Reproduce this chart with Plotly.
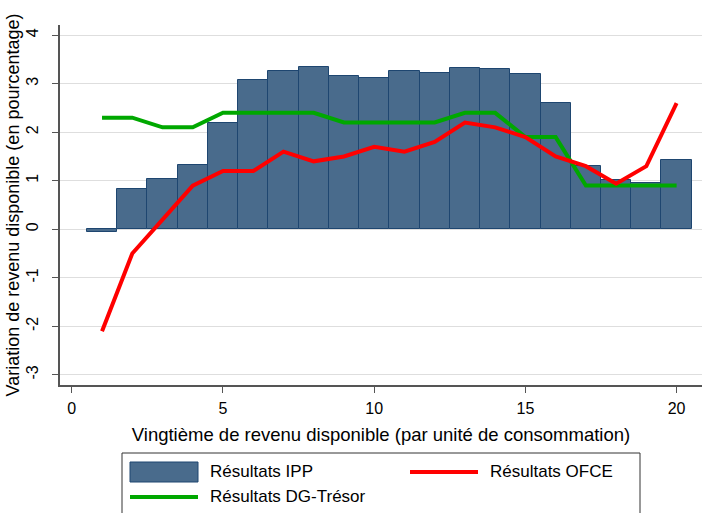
import plotly.graph_objects as go

vingtiles = list(range(1, 21))
ipp = [-0.05, 0.82, 1.04, 1.33, 2.19, 3.07, 3.27, 3.35, 3.15, 3.12,
       3.26, 3.22, 3.33, 3.31, 3.20, 2.60, 1.30, 1.02, 0.96, 1.42]
ofce = [-2.1, -0.5, 0.2, 0.9, 1.2, 1.2, 1.6, 1.4, 1.5, 1.7,
        1.6, 1.8, 2.2, 2.1, 1.9, 1.5, 1.3, 0.94, 1.3, 2.6]
tresor = [2.3, 2.3, 2.1, 2.1, 2.4, 2.4, 2.4, 2.4, 2.2, 2.2,
          2.2, 2.2, 2.4, 2.4, 1.9, 1.9, 0.9, 0.9, 0.9, 0.9]
x_ticks = [0, 5, 10, 15, 20]
y_ticks = [-3, -2, -1, 0, 1, 2, 3, 4]
y_tick_labels = ["-3", "-2", "-1", "0", "1", "2", "3", "4"]

FONT = "Liberation Sans, Arial, sans-serif"
BAR_FILL = "#496b8c"
BAR_LINE = "#1e4670"
RED = "#ff0000"
GREEN = "#00a800"

W, H = 702, 513
ML, MR, MT, MB = 60, 0, 25, 128
PW, PH = W - ML - MR, H - MT - MB


def px(x):
    return (x - ML) / PW


def py(y):
    return (H - MB - y) / PH


fig = go.Figure()
fig.add_trace(go.Bar(
    x=vingtiles, y=ipp, width=1, name="Résultats IPP",
    marker=dict(color=BAR_FILL, line=dict(color=BAR_LINE, width=1)),
))
fig.add_trace(go.Scatter(
    x=vingtiles, y=tresor, mode="lines", name="Résultats DG-Trésor",
    line=dict(color=GREEN, width=4),
))
fig.add_trace(go.Scatter(
    x=vingtiles, y=ofce, mode="lines", name="Résultats OFCE",
    line=dict(color=RED, width=4),
))

# manual legend (Stata-style, two columns)
shapes = [
    dict(type="rect", xref="paper", yref="paper", x0=px(122), x1=px(640),
         y0=py(453), y1=py(520), line=dict(color="#333", width=1),
         fillcolor="white", layer="above"),
    dict(type="rect", xref="paper", yref="paper", x0=px(130), x1=px(198),
         y0=py(462), y1=py(482), line=dict(color=BAR_LINE, width=1),
         fillcolor=BAR_FILL, layer="above"),
    dict(type="line", xref="paper", yref="paper", x0=px(410), x1=px(478),
         y0=py(472), y1=py(472), line=dict(color=RED, width=4), layer="above"),
    dict(type="line", xref="paper", yref="paper", x0=px(130), x1=px(198),
         y0=py(497), y1=py(497), line=dict(color=GREEN, width=4), layer="above"),
]
legend_texts = [("Résultats IPP", 208, 471), ("Résultats OFCE", 488, 471),
                ("Résultats DG-Trésor", 208, 496)]
annotations = [
    dict(text=t, xref="paper", yref="paper", x=px(x0), y=py(y0),
         xanchor="left", yanchor="middle", showarrow=False,
         font=dict(family=FONT, size=17, color="black"))
    for t, x0, y0 in legend_texts
]

fig.update_layout(
    width=W, height=H,
    margin=dict(l=ML, r=MR, t=MT, b=MB),
    plot_bgcolor="white", paper_bgcolor="white",
    font=dict(family=FONT, size=16, color="black"),
    bargap=0,
    showlegend=False,
    shapes=shapes,
    annotations=annotations,
)
fig.update_xaxes(
    range=[-0.39, 20.84], tickvals=x_ticks, ticks="outside", ticklen=6,
    tickcolor="#555", showgrid=False, zeroline=False,
    showline=True, linecolor="#555", linewidth=1.5, automargin=False,
    ticklabelstandoff=2,
    title=dict(text="Vingtième de revenu disponible (par unité de consommation)",
               standoff=12, font=dict(family=FONT, size=18.5, color="black")),
    tickfont=dict(family=FONT, size=16),
)
fig.update_yaxes(
    range=[-3.21, 4.21], tickvals=y_ticks, ticktext=y_tick_labels,
    ticks="outside", ticklen=6,
    tickcolor="#555", tickangle=-90, showgrid=True, gridcolor="#dedede",
    gridwidth=1, zeroline=False, showline=True, linecolor="#555",
    linewidth=1.5, automargin=False, ticklabelstandoff=8,
    title=dict(text="Variation de revenu disponible (en pourcentage)",
               standoff=0, font=dict(family=FONT, size=18, color="black")),
    tickfont=dict(family=FONT, size=16),
)

fig.write_html("out.html",
               config={"displayModeBar": False},
               post_script="document.body.style.margin='0px';")
